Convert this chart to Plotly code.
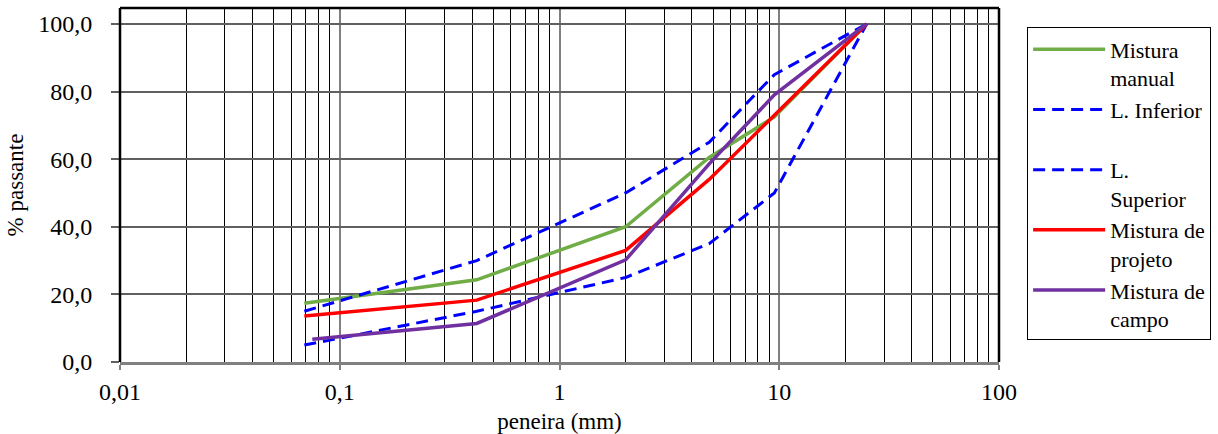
import plotly.graph_objects as go

# --- data ---
x_fine = [0.069, 0.42, 2.0, 4.8, 9.5, 25]
x_campo = [0.075, 0.42, 2.0, 4.8, 9.5, 25]
mistura_manual = [17.4, 24.3, 40.0, 60.5, 72.5, 100]
limite_inferior = [5.0, 15.0, 25.0, 35.0, 50.0, 100]
limite_superior = [15.0, 30.0, 50.0, 65.0, 85.0, 100]
mistura_projeto = [13.6, 18.3, 33.0, 54.0, 73.0, 100]
mistura_campo = [6.7, 11.4, 30.2, 58.6, 79.0, 100]

x_tickvals = [0.01, 0.1, 1, 10, 100]
x_ticktext = ["0,01", "0,1", "1", "10", "100"]
y_tickvals = [0, 20, 40, 60, 80, 100]

FONT = "Liberation Serif, Times New Roman, serif"

fig = go.Figure()
fig.add_trace(go.Scatter(x=x_fine, y=mistura_manual, mode="lines",
                         name="Mistura<br>manual",
                         line=dict(color="#70AD47", width=3.5)))
fig.add_trace(go.Scatter(x=x_fine, y=limite_inferior, mode="lines",
                         name="L. Inferior<br> ",
                         line=dict(color="#0000FF", width=3, dash="12px,7px")))
fig.add_trace(go.Scatter(x=x_fine, y=limite_superior, mode="lines",
                         name="L.<br>Superior",
                         line=dict(color="#0000FF", width=3, dash="12px,7px")))
fig.add_trace(go.Scatter(x=x_fine, y=mistura_projeto, mode="lines",
                         name="Mistura de<br>projeto",
                         line=dict(color="#FF0000", width=3.5)))
fig.add_trace(go.Scatter(x=x_campo, y=mistura_campo, mode="lines",
                         name="Mistura de<br>campo",
                         line=dict(color="#7030A0", width=3.5)))

minor_vals = [m * 10 ** e for e in range(-2, 2) for m in range(2, 10)]

fig.update_xaxes(
    type="log", range=[-2, 2], automargin=False,
    tickvals=x_tickvals, ticktext=x_ticktext,
    ticks="outside", ticklen=5, tickcolor="#808080", tickwidth=1.5,
    ticklabelstandoff=1,
    showgrid=True, gridcolor="#808080", gridwidth=1.5,
    minor=dict(tickvals=minor_vals, showgrid=True, gridcolor="#000000", gridwidth=1, ticks=""),
    showline=True, linecolor="#808080", linewidth=2.5,
    zeroline=False,
    tickfont=dict(family=FONT, size=24, color="black"),
    title=dict(text="peneira (mm)", font=dict(family=FONT, size=23, color="black"), standoff=12),
)
fig.update_yaxes(
    range=[0, 104.7], automargin=False,
    tickvals=y_tickvals, tickformat=".1f",
    ticks="outside", ticklen=8, tickcolor="#606060", tickwidth=1.5,
    ticklabelstandoff=14,
    showgrid=True, gridcolor="#606060", gridwidth=1.5,
    showline=False, zeroline=False,
    tickfont=dict(family=FONT, size=24, color="black"),
    title=dict(text="% passante", font=dict(family=FONT, size=23, color="black"), standoff=8),
)

# plot-area frame (left, top, right)
frame = dict(type="line", xref="paper", yref="paper", line=dict(color="black", width=2.5))
fig.add_shape(**frame, x0=0, x1=0, y0=0, y1=1)
fig.add_shape(**frame, x0=0, x1=1, y0=1, y1=1)
fig.add_shape(**frame, x0=1, x1=1, y0=0, y1=1)

fig.update_layout(
    width=1218, height=434,
    margin=dict(l=120, r=219, t=8, b=72, autoexpand=False),
    paper_bgcolor="white", plot_bgcolor="white",
    separators=",.",
    showlegend=True,
    legend=dict(
        x=1.032, y=0.945, xanchor="left", yanchor="top",
        bordercolor="black", borderwidth=1,
        font=dict(family=FONT, size=22, color="black"),
        valign="top", tracegroupgap=0, itemwidth=72,
    ),
)

fig.write_html("out.html")
